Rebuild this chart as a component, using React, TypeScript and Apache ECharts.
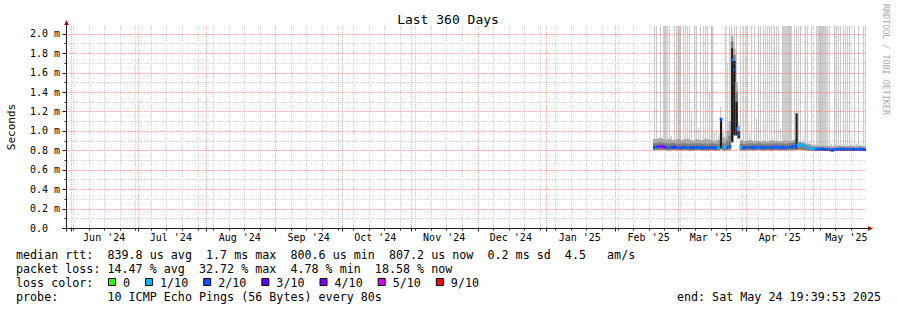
import React, { useEffect, useRef } from "react";
import * as echarts from "echarts";

// ---------------- data ----------------
const TITLE = "Last 360 Days";
const Y_AXIS_NAME = "Seconds";
const WATERMARK = "RRDTOOL / TOBI OETIKER";

const DAY_MS = 86400000;
const END_TIME = Date.UTC(2025, 4, 24, 19, 39, 53);
const SPAN_DAYS = 360;
const START_TIME = END_TIME - SPAN_DAYS * DAY_MS;
const Y_MAX = 2.08; // ms, top of the plot
const FIRST_DATA_DAY = Date.UTC(2025, 1, 18); // first day with measurements

const yLabelValues = [0, 0.2, 0.4, 0.6, 0.8, 1.0, 1.2, 1.4, 1.6, 1.8, 2.0];
const yLabels = ["0.0", "0.2 m", "0.4 m", "0.6 m", "0.8 m", "1.0 m", "1.2 m", "1.4 m", "1.6 m", "1.8 m", "2.0 m"];
const yMinorValues = [0.1, 0.3, 0.5, 0.7, 0.9, 1.1, 1.3, 1.5, 1.7, 1.9];
const monthLabels = ["Jun '24", "Jul '24", "Aug '24", "Sep '24", "Oct '24", "Nov '24", "Dec '24", "Jan '25", "Feb '25", "Mar '25", "Apr '25", "May '25"];

// daily values from 2025-02-18 to 2025-05-24 (ms)
const medianRtt = [
  0.832, 0.835, 0.838, 0.840, 0.836, 0.833, 0.830, 0.828, 0.832, 0.834,
  0.830, 0.828, 0.826, 0.829, 0.831, 0.827, 0.825, 0.828, 0.826, 0.829,
  0.830, 0.827, 0.826, 0.828, 0.825, 0.827, 0.829, 0.826, 0.824, 0.826,
  1.120, 0.830, 0.828, 0.830, 0.840, 1.730, 1.630, 1.020, 0.960, 0.828,
  0.826, 0.828, 0.830, 0.832, 0.829, 0.827, 0.831, 0.833, 0.830, 0.828,
  0.829, 0.831, 0.830, 0.828, 0.832, 0.834, 0.831, 0.829, 0.830, 0.828,
  0.831, 0.833, 0.835, 0.840, 0.850, 0.856, 0.858, 0.852, 0.845, 0.828,
  0.820, 0.818, 0.815, 0.813, 0.812, 0.814, 0.812, 0.810, 0.808, 0.806,
  0.801, 0.806, 0.808, 0.812, 0.813, 0.811, 0.812, 0.810, 0.811, 0.809,
  0.810, 0.808, 0.809, 0.811, 0.808, 0.807,
];
const lossTenths = [
  2, 2, 4, 4, 4, 3, 2, 2, 2, 3,
  2, 2, 2, 2, 2, 2, 2, 2, 2, 2,
  2, 2, 2, 2, 2, 2, 2, 2, 2, 1,
  2, 1, 1, 2, 2, 2, 2, 2, 2, 1,
  2, 2, 2, 2, 2, 2, 2, 2, 2, 2,
  2, 2, 2, 2, 2, 2, 2, 2, 2, 2,
  2, 2, 2, 2, 2, 1, 1, 1, 1, 1,
  1, 1, 1, 2, 2, 2, 2, 2, 2, 2,
  2, 2, 2, 2, 2, 2, 2, 2, 2, 2,
  2, 2, 2, 2, 2, 2,
];
const pingMin = [
  0.802, 0.803, 0.804, 0.805, 0.803, 0.802, 0.801, 0.800, 0.802, 0.803,
  0.801, 0.800, 0.800, 0.801, 0.802, 0.800, 0.799, 0.800, 0.799, 0.801,
  0.802, 0.800, 0.799, 0.800, 0.799, 0.800, 0.801, 0.799, 0.798, 0.799,
  0.810, 0.801, 0.800, 0.801, 0.805, 0.880, 0.950, 0.950, 0.920, 0.800,
  0.799, 0.800, 0.801, 0.802, 0.800, 0.799, 0.801, 0.802, 0.800, 0.799,
  0.800, 0.801, 0.800, 0.799, 0.801, 0.802, 0.800, 0.799, 0.800, 0.799,
  0.800, 0.801, 0.802, 0.803, 0.805, 0.806, 0.806, 0.804, 0.802, 0.798,
  0.797, 0.797, 0.796, 0.796, 0.795, 0.796, 0.795, 0.795, 0.794, 0.793,
  0.790, 0.793, 0.794, 0.796, 0.796, 0.795, 0.796, 0.795, 0.795, 0.794,
  0.795, 0.794, 0.794, 0.795, 0.794, 0.794,
];
const pingP70 = [
  0.874, 0.876, 0.879, 0.882, 0.878, 0.874, 0.872, 0.870, 0.874, 0.876,
  0.872, 0.870, 0.869, 0.872, 0.874, 0.870, 0.868, 0.871, 0.869, 0.872,
  0.873, 0.870, 0.869, 0.871, 0.868, 0.870, 0.872, 0.869, 0.866, 0.869,
  0.900, 0.874, 0.872, 0.900, 0.950, 1.920, 1.780, 1.400, 1.000, 0.869,
  0.866, 0.868, 0.870, 0.872, 0.869, 0.867, 0.871, 0.873, 0.870, 0.868,
  0.869, 0.871, 0.870, 0.868, 0.872, 0.874, 0.871, 0.869, 0.870, 0.868,
  0.871, 0.873, 0.875, 0.879, 0.884, 0.880, 0.878, 0.872, 0.864, 0.852,
  0.842, 0.836, 0.833, 0.831, 0.830, 0.832, 0.830, 0.828, 0.827, 0.825,
  0.821, 0.825, 0.827, 0.830, 0.831, 0.829, 0.830, 0.828, 0.829, 0.827,
  0.828, 0.826, 0.827, 0.829, 0.826, 0.825,
];
const pingP90 = [
  0.920, 0.915, 0.925, 0.930, 0.920, 0.910, 0.915, 0.920, 0.905, 0.910,
  0.915, 0.920, 0.910, 0.905, 0.915, 0.920, 0.910, 0.905, 0.900, 0.915,
  0.910, 0.905, 0.910, 0.920, 0.915, 0.910, 0.905, 0.900, 0.905, 0.910,
  1.000, 0.930, 0.930, 1.000, 1.100, 1.980, 1.850, 1.500, 1.050, 0.905,
  0.900, 0.895, 0.900, 0.905, 0.900, 0.895, 0.900, 0.895, 0.890, 0.900,
  0.895, 0.890, 0.900, 0.905, 0.895, 0.900, 0.890, 0.895, 0.900, 0.905,
  0.900, 0.895, 0.900, 0.910, 0.910, 0.890, 0.885, 0.880, 0.875, 0.870,
  0.865, 0.855, 0.850, 0.855, 0.850, 0.848, 0.852, 0.850, 0.848, 0.845,
  0.840, 0.850, 0.848, 0.852, 0.845, 0.850, 0.848, 0.845, 0.850, 0.847,
  0.845, 0.850, 0.848, 0.845, 0.847, 0.845,
];
// highest ping of the day; 2.3 = beyond the top of the chart
const pingMax = [
  2.3, 2.3, 0.93, 2.3, 2.3, 2.3, 2.3, 2.3, 0.95, 2.3,
  2.3, 2.3, 2.3, 2.3, 2.3, 2.3, 2.3, 1.19, 2.3, 2.3,
  1.03, 2.3, 2.3, 2.3, 2.3, 1.40, 2.3, 0.98, 1.0, 0.95,
  1.25, 0.98, 2.3, 1.70, 2.3, 2.3, 2.3, 2.3, 1.1, 2.3,
  2.3, 2.3, 2.3, 0.98, 2.3, 2.3, 1.13, 2.3, 2.3, 2.3,
  2.3, 2.3, 2.3, 2.3, 2.3, 2.3, 2.3, 1.03, 2.3, 2.3,
  2.3, 2.3, 2.3, 2.3, 2.3, 2.3, 2.3, 0.92, 2.3, 2.3,
  0.9, 2.3, 0.88, 2.3, 2.3, 2.3, 2.3, 2.3, 2.3, 2.3,
  0.87, 2.3, 2.3, 2.3, 2.3, 2.3, 2.3, 2.3, 2.3, 0.88,
  2.3, 0.87, 2.3, 0.87, 2.3, 2.3,
];
// days where most pings were high (dark core of the smoke)
const coreSpikeDates = ["2025-03-20", "2025-03-25", "2025-03-26", "2025-03-27", "2025-03-28", "2025-04-23"];
const coreSpikeTops = [1.13, 1.85, 1.72, 1.3, 0.99, 1.18];
// periods where the maximum ping stayed beyond the chart top all day
const sustainedHighRanges = [
  ["2025-02-23", "2025-02-23"],
  ["2025-03-01", "2025-03-01"],
  ["2025-03-16", "2025-03-16"],
  ["2025-04-17", "2025-04-20"],
  ["2025-05-03", "2025-05-06"],
];

const lossLevels = [0, 1, 2, 3, 4, 5, 9];
const lossLabels = ["0", "1/10", "2/10", "3/10", "4/10", "5/10", "9/10"];
const lossColors = ["#26ff00", "#00b8ff", "#0059ff", "#5e00ff", "#7e00ff", "#dd00ff", "#ff0000"];

const medianLine = "median rtt:  839.8 us avg  1.7 ms max  800.6 us min  807.2 us now  0.2 ms sd  4.5   am/s";
const lossLine = "packet loss: 14.47 % avg  32.72 % max  4.78 % min  18.58 % now";
const lossColorLabel = "loss color:";
const probeLine = "probe:       10 ICMP Echo Pings (56 Bytes) every 80s";
const endLine = "end: Sat May 24 19:39:53 2025";

// ---------------- styles ----------------
const FONT = "'DejaVu Sans Mono', 'Liberation Mono', monospace";
const AXIS_COLOR = "#202020";
const ARROW_COLOR = "#9b1b1b";
const GRID_MAJOR = "rgba(255,0,0,0.3)";
const GRID_MINOR = "rgba(120,120,120,0.3)";
const SMOKE_MAX = "#cbcbcb";
const SMOKE_OUTER = "#a9a9a9";
const SMOKE_INNER = "#7c7c7c";
const SMOKE_CORE = "#1c1c1c";

// ---------------- derived ----------------
const dayIndexOf = (iso: string) => Math.round((Date.parse(iso + "T00:00:00Z") - FIRST_DATA_DAY) / DAY_MS);

function lossColor(n: number) {
  let c = lossColors[0];
  lossLevels.forEach((lv, i) => {
    if (n >= lv) c = lossColors[i];
  });
  return c;
}

const smokeTable = medianRtt.map((med, i) => {
  const t = FIRST_DATA_DAY + (i + 0.5) * DAY_MS;
  const k = coreSpikeDates.findIndex((d) => dayIndexOf(d) === i);
  const core = k >= 0 ? coreSpikeTops[k] : 0;
  const wide = sustainedHighRanges.some(([a, b]) => i >= dayIndexOf(a) && i <= dayIndexOf(b)) ? 1 : 0;
  return [t, pingMin[i], pingP70[i], pingP90[i], pingMax[i], core, med, lossTenths[i], wide];
});

const monthStarts: number[] = [];
{
  const sd = new Date(START_TIME);
  for (let m = 1; m < 20; m++) {
    const t = Date.UTC(sd.getUTCFullYear(), sd.getUTCMonth() + m, 1);
    if (t > END_TIME) break;
    if (t >= START_TIME) monthStarts.push(t);
  }
}
const weekStarts: number[] = [];
{
  const sd = new Date(START_TIME);
  let t = Date.UTC(sd.getUTCFullYear(), sd.getUTCMonth(), sd.getUTCDate() + 1);
  while (new Date(t).getUTCDay() !== 0) t += DAY_MS;
  for (; t <= END_TIME; t += 7 * DAY_MS) if (!monthStarts.includes(t)) weekStarts.push(t);
}

// ---------------- render ----------------
function renderSmoke(_params: any, api: any) {
  const t = api.value(0);
  const lo = api.value(1);
  const p70 = api.value(2);
  const p90 = api.value(3);
  const mx = Math.min(api.value(4), Y_MAX);
  const core = api.value(5);
  const med = api.value(6);
  const loss = api.value(7);
  const wide = api.value(8);
  const w = api.size([DAY_MS, 0])[0];
  const cx = api.coord([t, 0])[0];
  const yOf = (v: number) => api.coord([t, Math.min(v, Y_MAX)])[1];
  const left = cx - w / 2;
  const rect = (x: number, v1: number, v2: number, width: number, fill: string) => {
    const a = yOf(v1);
    const b = yOf(v2);
    return { type: "rect", shape: { x, y: Math.min(a, b), width, height: Math.abs(a - b) }, style: { fill } };
  };
  const children: any[] = [];
  if (mx > p90) {
    if (wide) children.push(rect(left, p90, mx, w + 0.3, SMOKE_MAX));
    else children.push(rect(Math.floor(cx), p90, mx, 1.1, SMOKE_MAX));
  }
  children.push(rect(left, lo, p90, w + 0.3, SMOKE_OUTER));
  children.push(rect(left, lo, p70, w + 0.3, SMOKE_INNER));
  if (core > 0) children.push(rect(left + 0.2, lo + 0.01, core, w, SMOKE_CORE));
  const ym = yOf(med);
  children.push({ type: "rect", shape: { x: left, y: ym - 1.5, width: w + 0.3, height: 3 }, style: { fill: lossColor(loss) } });
  return { type: "group", children };
}

function renderFrame(_params: any, api: any) {
  const [xl, yb] = api.coord([START_TIME, 0]);
  const [xr, yt] = api.coord([END_TIME, Y_MAX]);
  const px = (v: number) => Math.round(v) + 0.5;
  const children: any[] = [];
  const line = (x1: number, y1: number, x2: number, y2: number, stroke: string, dash?: number[]) =>
    children.push({ type: "line", shape: { x1, y1, x2, y2 }, style: { stroke, lineWidth: 1, lineDash: dash || null } });
  const text = (x: number, y: number, s: string, align: string) =>
    children.push({
      type: "text",
      x,
      y,
      style: { text: s, fill: "#000", fontSize: 10, fontFamily: FONT, align, textAlign: align, verticalAlign: "middle", textVerticalAlign: "middle" },
    });

  // grid
  weekStarts.forEach((t) => {
    const x = px(api.coord([t, 0])[0]);
    line(x, yt, x, yb, GRID_MINOR, [1, 1]);
  });
  yMinorValues.forEach((v) => {
    const y = px(api.coord([START_TIME, v])[1]);
    line(xl, y, xr, y, GRID_MINOR, [1, 1]);
  });
  monthStarts.forEach((t) => {
    const x = px(api.coord([t, 0])[0]);
    line(x, yt, x, yb, GRID_MAJOR, [1, 1]);
  });
  yLabelValues.forEach((v) => {
    if (v === 0) return;
    const y = px(api.coord([START_TIME, v])[1]);
    line(xl, y, xr, y, GRID_MAJOR, [1, 1]);
  });

  // axes
  const ax = px(xl);
  const ay = px(yb);
  line(ax, ay + 3, ax, yt - 2, AXIS_COLOR);
  line(xl - 4, ay, xr + 3, ay, AXIS_COLOR);
  children.push({ type: "polygon", shape: { points: [[ax - 2.5, yt - 1], [ax + 2.5, yt - 1], [ax, yt - 6]] }, style: { fill: ARROW_COLOR } });
  children.push({ type: "polygon", shape: { points: [[xr + 2, ay - 2.5], [xr + 2, ay + 2.5], [xr + 7, ay]] }, style: { fill: ARROW_COLOR } });

  // ticks
  yMinorValues.forEach((v) => {
    const y = px(api.coord([START_TIME, v])[1]);
    line(ax - 2, y, ax, y, AXIS_COLOR);
  });
  yLabelValues.forEach((v) => {
    const y = px(api.coord([START_TIME, v])[1]);
    line(ax - 4, y, ax, y, AXIS_COLOR);
  });
  weekStarts.forEach((t) => {
    const x = px(api.coord([t, 0])[0]);
    line(x, ay, x, ay + 2, AXIS_COLOR);
  });
  monthStarts.forEach((t) => {
    const x = px(api.coord([t, 0])[0]);
    line(x, ay - 1, x, ay + 3, AXIS_COLOR);
  });

  // labels
  yLabelValues.forEach((v, i) => {
    const y = api.coord([START_TIME, v])[1];
    text(xl - 36, y, yLabels[i], "left");
  });
  monthStarts.forEach((t, i) => {
    const x = api.coord([t + 15 * DAY_MS, 0])[0];
    text(x, yb + 9.5, monthLabels[i], "center");
  });
  return { type: "group", children };
}

function buildGraphics() {
  const els: any[] = [];
  const txt = (x: number, y: number, s: string, opts: any = {}) =>
    els.push({
      type: "text",
      x,
      y,
      rotation: opts.rotation || 0,
      silent: true,
      style: {
        text: s,
        fill: opts.fill || "#000",
        fontSize: opts.fontSize || 11.7,
        fontFamily: FONT,
        align: opts.align || "left",
        textAlign: opts.align || "left",
        verticalAlign: "middle",
        textVerticalAlign: "middle",
      },
    });
  txt(448, 19, TITLE, { fontSize: 13, align: "center" });
  txt(11, 127, Y_AXIS_NAME, { fontSize: 11, align: "center", rotation: Math.PI / 2 });
  txt(886, 4, WATERMARK, { fontSize: 8.4, fill: "#aaaaaa", rotation: -Math.PI / 2 });

  txt(16, 254.5, medianLine);
  txt(16, 268.5, lossLine);
  txt(16, 282.5, lossColorLabel);
  txt(16, 296.7, probeLine);
  txt(881, 296.7, endLine, { align: "right" });

  const charW = 7.04;
  let cursor = 108;
  lossLabels.forEach((lab, i) => {
    els.push({
      type: "rect",
      silent: true,
      shape: { x: cursor + 0.5, y: 278.5, width: 7, height: 7 },
      style: { fill: lossColors[i], stroke: "#000", lineWidth: 1 },
    });
    txt(cursor + 15, 282.5, lab);
    cursor += 15 + lab.length * charW + 15;
  });
  return els;
}

const option: any = {
  animation: false,
  backgroundColor: "#ffffff",
  tooltip: { show: false },
  grid: { left: 66, top: 26, width: 800, height: 202, containLabel: false, outerBoundsMode: "none" },
  xAxis: { type: "value", min: START_TIME, max: END_TIME, show: false },
  yAxis: { type: "value", min: 0, max: Y_MAX, show: false },
  series: [
    { type: "custom", name: "smoke", renderItem: renderSmoke, data: smokeTable, encode: { x: 0, y: 1 }, clip: true, z: 2, silent: true },
    { type: "custom", name: "frame", renderItem: renderFrame, data: [[START_TIME, 0]], encode: { x: 0, y: 1 }, clip: false, z: 3, silent: true },
  ],
  graphic: { elements: buildGraphics() },
};

export default function App() {
  const ref = useRef<HTMLDivElement>(null);
  useEffect(() => {
    document.body.style.margin = "0";
    const chart = echarts.init(ref.current as HTMLDivElement, null, { renderer: "svg" });
    chart.setOption(option);
    return () => chart.dispose();
  }, []);
  return (
    <div style={{ position: "fixed", left: 0, top: 0, width: 897, height: 310, background: "#ffffff" }}>
      <div ref={ref} style={{ width: 897, height: 310 }} />
    </div>
  );
}
